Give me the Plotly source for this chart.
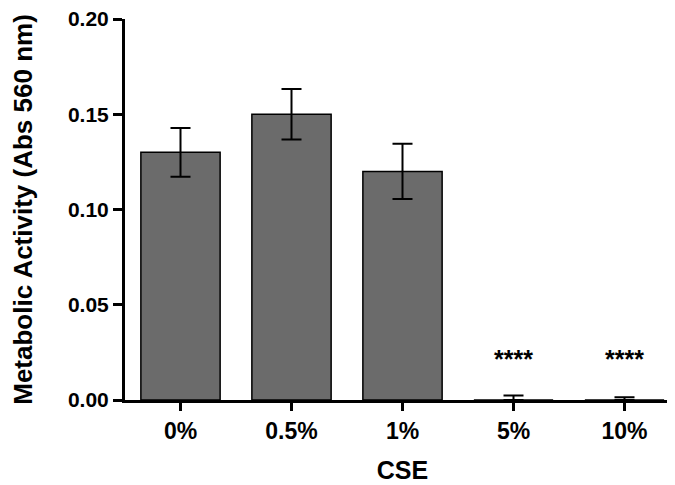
import plotly.graph_objects as go

categories = ["0%", "0.5%", "1%", "5%", "10%"]
values = [0.130, 0.150, 0.120, 0.0, 0.0]
err_plus = [0.0128, 0.0132, 0.0145, 0.0023, 0.0014]
err_minus = [0.0128, 0.0132, 0.0145, 0.0, 0.0]
sig_labels = ["", "", "", "****", "****"]
y_ticks = [0.00, 0.05, 0.10, 0.15, 0.20]

FONT = "Liberation Sans, Arial, sans-serif"

fig = go.Figure()
fig.add_trace(go.Bar(
    x=categories, y=values,
    marker=dict(color="#6b6b6b", line=dict(color="black", width=1.5)),
    error_y=dict(type="data", array=err_plus, arrayminus=err_minus,
                 symmetric=False, color="black", thickness=2, width=10),
    showlegend=False,
))

for c, v, e, s in zip(categories, values, err_plus, sig_labels):
    if s:
        fig.add_annotation(x=c, y=0.0213, text=s, showarrow=False,
                           font=dict(family=FONT, size=25, color="black", weight="bold"),
                           yanchor="middle")

fig.update_layout(
    width=675, height=485,
    margin=dict(l=117, r=3, t=11, b=93),
    paper_bgcolor="white", plot_bgcolor="white",
    bargap=0.286,
    font=dict(family=FONT, color="black"),
)
fig.update_xaxes(
    range=[-0.5, 4.5],
    showline=True, linecolor="black", linewidth=3,
    ticks="outside", ticklen=8, tickwidth=3, tickcolor="black",
    tickfont=dict(family=FONT, size=23, color="black", weight="bold"),
    title=dict(text="CSE", font=dict(family=FONT, size=25, color="black", weight="bold"), standoff=19),
    showgrid=False, zeroline=False, automargin=False,
    ticklabeloverflow="allow",
)
fig.update_yaxes(
    range=[0, 0.2],
    tickvals=y_ticks, tickformat=".2f",
    showline=True, linecolor="black", linewidth=3,
    ticks="outside", ticklen=9, tickwidth=3, tickcolor="black",
    tickfont=dict(family=FONT, size=21, color="black", weight="bold"),
    title=dict(text="Metabolic Activity (Abs 560 nm)", font=dict(family=FONT, size=26, color="black", weight="bold"), standoff=38),
    showgrid=False, zeroline=False, automargin=False,
    ticklabeloverflow="allow",
)

fig.write_html("out.html")
